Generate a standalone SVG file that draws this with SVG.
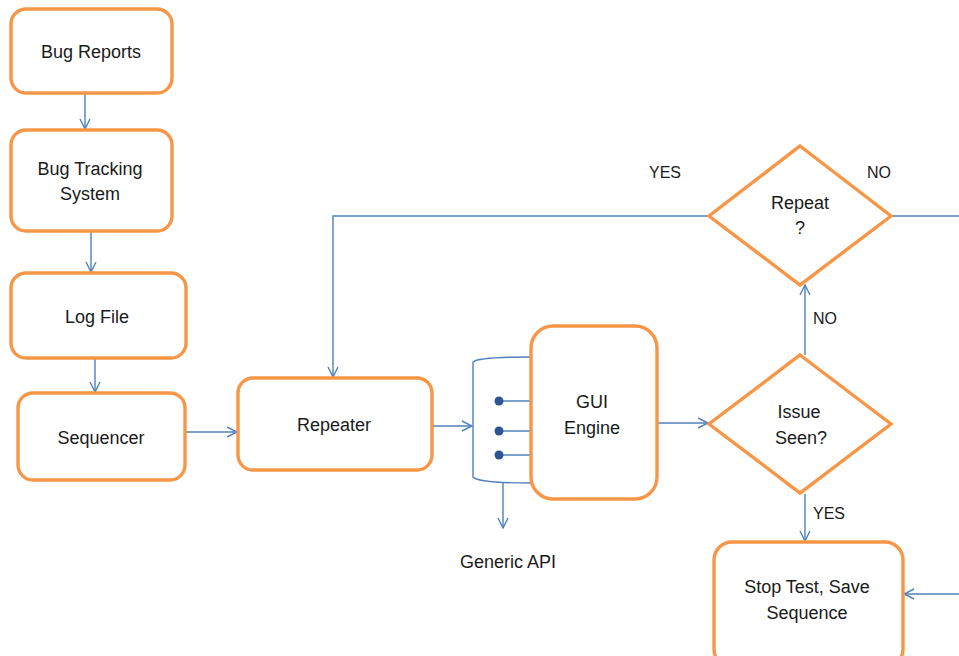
<svg xmlns="http://www.w3.org/2000/svg" width="959" height="656" viewBox="0 0 959 656">
<defs>
<marker id="arr" viewBox="0 0 12 12" refX="11" refY="6" markerWidth="12" markerHeight="12" markerUnits="userSpaceOnUse" orient="auto">
<path d="M1,1 L11,6 L1,11" fill="none" stroke="#4F81BD" stroke-width="1.4"/>
</marker>
</defs>
<style>
.box{fill:#fff;stroke:#F79646;stroke-width:3.4}
.c{fill:none;stroke:#4F81BD;stroke-width:1.4}
.t{font-family:"Liberation Sans","Open Sans",sans-serif;font-size:18px;fill:#1a1a1a;text-anchor:middle}
.l{font-family:"Liberation Sans","Open Sans",sans-serif;font-size:16px;fill:#1a1a1a}
</style>
<rect width="959" height="656" fill="#fff"/>
<g id="connectors">
<path class="c" d="M85,93 V129" marker-end="url(#arr)"/>
<path class="c" d="M91,231 V272" marker-end="url(#arr)"/>
<path class="c" d="M95,358 V392" marker-end="url(#arr)"/>
<path class="c" d="M185,432 H237" marker-end="url(#arr)"/>
<path class="c" d="M432,426 H472" marker-end="url(#arr)"/>
<path class="c" d="M657,423 H708" marker-end="url(#arr)"/>
<path class="c" d="M805,494 V541" marker-end="url(#arr)"/>
<path class="c" d="M805,355 V285" marker-end="url(#arr)"/>
<path class="c" d="M709,216 H333 V377" marker-end="url(#arr)"/>
<path class="c" d="M891,216 H959"/>
<path class="c" d="M959,594 H904" marker-end="url(#arr)"/>
<path class="c" d="M503,483 V528" marker-end="url(#arr)"/>
</g>
<g id="generic-api">
<path class="c" d="M531,357 Q478,357 473,362 V477 Q478,483 531,483"/>
<path class="c" d="M499,401 H531 M499,431 H531 M499,455 H531"/>
<circle cx="499" cy="401" r="4.5" fill="#2F5597"/>
<circle cx="499" cy="431" r="4.5" fill="#2F5597"/>
<circle cx="499" cy="455" r="4.5" fill="#2F5597"/>
<text class="t" x="508" y="568">Generic API</text>
</g>
<g id="bug-reports">
<rect class="box" x="11" y="9" width="161" height="84" rx="15"/>
<text class="t" x="91" y="58">Bug Reports</text>
</g>
<g id="bug-tracking">
<rect class="box" x="11" y="130" width="161" height="101" rx="15"/>
<text class="t" x="90" y="175">Bug Tracking</text>
<text class="t" x="90" y="200">System</text>
</g>
<g id="log-file">
<rect class="box" x="11" y="273" width="175" height="85" rx="15"/>
<text class="t" x="97" y="323">Log File</text>
</g>
<g id="sequencer">
<rect class="box" x="18" y="393" width="167" height="87" rx="15"/>
<text class="t" x="101" y="444">Sequencer</text>
</g>
<g id="repeater">
<rect class="box" x="238" y="378" width="194" height="92" rx="15"/>
<text class="t" x="334" y="431">Repeater</text>
</g>
<g id="gui-engine">
<rect class="box" x="531" y="326" width="126" height="173" rx="22"/>
<text class="t" x="592" y="408">GUI</text>
<text class="t" x="592" y="434">Engine</text>
</g>
<g id="issue-seen">
<polygon class="box" points="800,355 891,424 800,493 709,424"/>
<text class="t" x="799" y="418">Issue</text>
<text class="t" x="801" y="444">Seen?</text>
</g>
<g id="repeat">
<polygon class="box" points="800,146 891,216 800,285 709,216"/>
<text class="t" x="800" y="209">Repeat</text>
<text class="t" x="800" y="234">?</text>
</g>
<g id="stop-test">
<rect class="box" x="714" y="542" width="189" height="125" rx="18"/>
<text class="t" x="807" y="593">Stop Test, Save</text>
<text class="t" x="807" y="619">Sequence</text>
</g>
<g id="labels">
<text class="l" x="649" y="178">YES</text>
<text class="l" x="867" y="178">NO</text>
<text class="l" x="813" y="324">NO</text>
<text class="l" x="813" y="519">YES</text>
</g>
</svg>
